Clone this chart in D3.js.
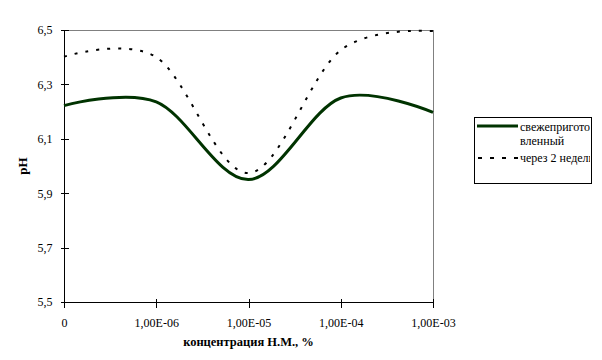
<!DOCTYPE html>
<html>
<head>
<meta charset="utf-8">
<script src="https://cdn.jsdelivr.net/npm/d3@7"></script>
<style>
  html, body { margin: 0; padding: 0; background: #fff; }
  svg { display: block; }
</style>
</head>
<body>
<svg id="chart" width="602" height="360"></svg>
<script>
const categories = ["0", "1,00E-06", "1,00E-05", "1,00E-04", "1,00E-03"];
const freshValues = [6.222, 6.236, 5.950, 6.250, 6.197];
const twoWeeksValues = [6.402, 6.400, 5.974, 6.426, 6.496];
const yTickValues = [5.5, 5.7, 5.9, 6.1, 6.3, 6.5];
const seriesNames = ["свежеприготовленный", "через 2 недели"];
const legendLines = [["свежепригото", "вленный"], ["через 2 недели"]];
const xTitle = "концентрация Н.М., %";
const yTitle = "pH";

const FONT = "'Liberation Serif', 'Times New Roman', serif";

const svg = d3.select("#chart");
const plot = { left: 64, right: 433, top: 30, bottom: 302 };

const x = d3.scalePoint().domain(categories).range([plot.left, plot.right]);
const y = d3.scaleLinear().domain([5.5, 6.5]).range([plot.bottom, plot.top]);

// plot frame (top and right in gray)
svg.append("line").attr("x1", plot.left).attr("x2", plot.right)
  .attr("y1", plot.top + 0.5).attr("y2", plot.top + 0.5)
  .attr("stroke", "#808080").attr("stroke-width", 1).attr("shape-rendering", "crispEdges");
svg.append("line").attr("x1", plot.right + 0.5).attr("x2", plot.right + 0.5)
  .attr("y1", plot.top).attr("y2", plot.bottom)
  .attr("stroke", "#808080").attr("stroke-width", 1).attr("shape-rendering", "crispEdges");

// Y axis
const yAxis = svg.append("g")
  .attr("transform", `translate(${plot.left + 0.5},0)`)
  .call(d3.axisLeft(y).tickValues(yTickValues).tickSize(4).tickPadding(8)
    .tickFormat(d => d3.format(".1f")(d).replace(".", ",")));
yAxis.attr("font-family", FONT).attr("font-size", 12);
yAxis.select(".domain").attr("stroke", "#000").attr("shape-rendering", "crispEdges")
  .attr("d", `M0,${plot.top}V${plot.bottom}`);
yAxis.selectAll(".tick line").attr("x1", -4).attr("x2", 4).attr("stroke", "#000")
  .attr("shape-rendering", "crispEdges");
yAxis.selectAll(".tick text").attr("font-family", FONT).attr("font-size", 12).attr("fill", "#000");

// X axis
const xAxis = svg.append("g")
  .attr("transform", `translate(0,${plot.bottom + 0.5})`)
  .call(d3.axisBottom(x).tickSize(4).tickPadding(12));
xAxis.attr("font-family", FONT).attr("font-size", 12);
xAxis.select(".domain").attr("stroke", "#000").attr("shape-rendering", "crispEdges")
  .attr("d", `M${plot.left},0H${plot.right}`);
xAxis.selectAll(".tick line").attr("y1", -4).attr("y2", 5).attr("stroke", "#000")
  .attr("shape-rendering", "crispEdges");
xAxis.selectAll(".tick text").attr("font-family", FONT).attr("font-size", 12).attr("fill", "#000");

// titles
svg.append("text").attr("x", (plot.left + plot.right) / 2).attr("y", 346)
  .attr("text-anchor", "middle").attr("font-family", FONT)
  .attr("font-size", 12.5).attr("font-weight", "bold")
  .text(xTitle);
svg.append("text").attr("transform", "translate(27,166) rotate(-90)")
  .attr("text-anchor", "middle").attr("font-family", FONT)
  .attr("font-size", 13).attr("font-weight", "bold")
  .text(yTitle);

// lines
const line = d3.line()
  .x((d, i) => x(categories[i]))
  .y(d => y(d))
  .curve(d3.curveCardinal.tension(0));

svg.append("path").datum(twoWeeksValues)
  .attr("d", line).attr("fill", "none")
  .attr("stroke", "#000").attr("stroke-width", 2)
  .attr("stroke-dasharray", "3,8");

svg.append("path").datum(freshValues)
  .attr("d", line).attr("fill", "none")
  .attr("stroke", "#003300").attr("stroke-width", 3);

// legend
const lg = { x: 474, y: 117, w: 117, h: 66 };
svg.append("clipPath").attr("id", "legclip")
  .append("rect").attr("x", lg.x).attr("y", lg.y).attr("width", lg.w - 1).attr("height", lg.h);
svg.append("rect").attr("x", lg.x + 0.5).attr("y", lg.y + 0.5)
  .attr("width", lg.w).attr("height", lg.h)
  .attr("fill", "#fff").attr("stroke", "#000").attr("stroke-width", 1)
  .attr("shape-rendering", "crispEdges");
const legG = svg.append("g").attr("clip-path", "url(#legclip)")
  .attr("font-family", FONT).attr("font-size", 12);
legG.append("line").attr("x1", lg.x + 3).attr("x2", lg.x + 44)
  .attr("y1", 126).attr("y2", 126)
  .attr("stroke", "#003300").attr("stroke-width", 3);
legG.append("line").attr("x1", lg.x + 4).attr("x2", lg.x + 44)
  .attr("y1", 158).attr("y2", 158)
  .attr("stroke", "#000").attr("stroke-width", 2).attr("stroke-dasharray", "4,8");
const t1 = legG.append("text").attr("x", lg.x + 46).attr("y", 131)
  .attr("font-family", FONT).attr("font-size", 12);
legendLines[0].forEach((s, i) => t1.append("tspan").attr("x", lg.x + 46).attr("dy", i ? 14 : 0).text(s));
legG.append("text").attr("x", lg.x + 46).attr("y", 162)
  .attr("font-family", FONT).attr("font-size", 12)
  .text(legendLines[1][0]);
</script>
</body>
</html>
